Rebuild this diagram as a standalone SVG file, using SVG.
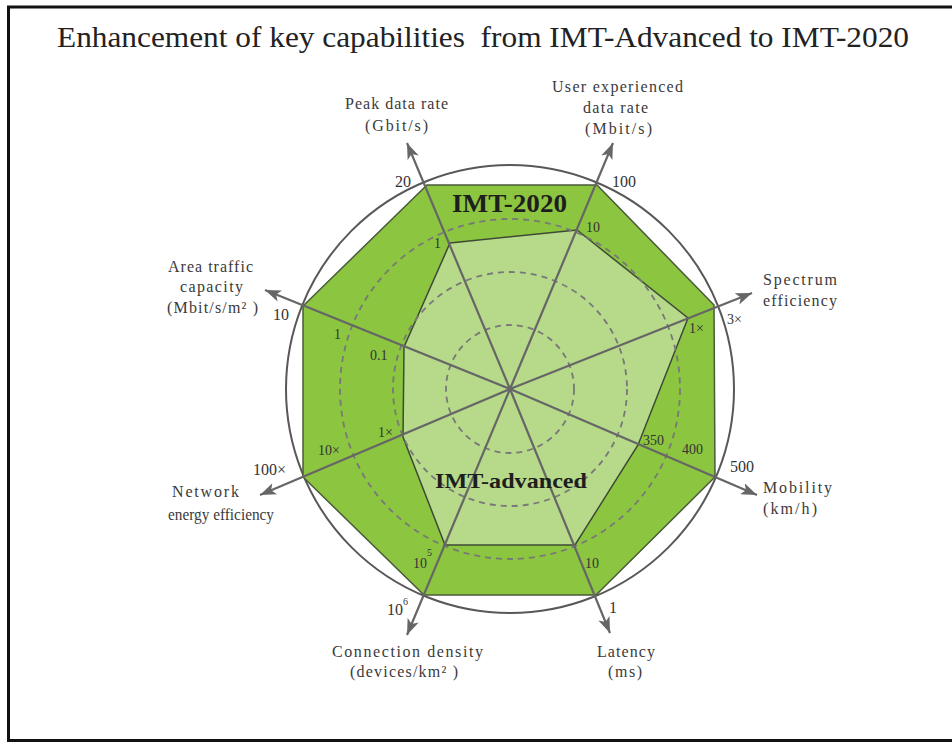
<svg xmlns="http://www.w3.org/2000/svg" width="952" height="744" viewBox="0 0 952 744">
<style>
.lbl{font-family:"Liberation Serif","Times New Roman",serif;font-size:16px;fill:#3a3a3a}
.tick{font-family:"Liberation Serif","Times New Roman",serif;font-size:16px;fill:#333}
.tk{font-family:"Liberation Serif","Times New Roman",serif;font-size:14px;fill:#333}
.sup{font-size:10px}
.big{font-family:"Liberation Serif","Times New Roman",serif;font-weight:bold;fill:#1e1e1e}
.axis{stroke:#666;stroke-width:2.2;fill:none;marker-end:url(#arr)}
.ring{stroke:#787878;stroke-width:1.8;stroke-dasharray:6 5;fill:none}
</style>
<defs>
<marker id="arr" viewBox="0 0 16 12" refX="16" refY="6" markerUnits="userSpaceOnUse" markerWidth="16" markerHeight="12" orient="auto">
<path d="M0,0 L16,6 L0,12 L4,6 z" fill="#666"/>
</marker>
</defs>
<rect x="0" y="0" width="952" height="744" fill="#fff"/>
<rect x="8.5" y="7" width="960" height="733.5" fill="none" stroke="#111" stroke-width="3"/>
<text x="57" y="47" xml:space="preserve" textLength="852" lengthAdjust="spacingAndGlyphs" style="font-family:'Liberation Serif','Times New Roman',serif;font-size:29px;fill:#222">Enhancement of key capabilities  from IMT-Advanced to IMT-2020</text>

<g id="outer-circle"><circle cx="510" cy="389" r="224" fill="none" stroke="#585858" stroke-width="2"/></g>
<g id="imt-2020"><polygon points="427,185 597,185 714,305 715,477 596,595 424,595 303,477 303,306" fill="#8cc540" stroke="#4a5a3a" stroke-width="1.5"/></g>
<g id="imt-advanced"><polygon points="450,243 577,230 688,318 638,445 575,545 445,545 403,437 404,347" fill="#b6d98a" stroke="#3e4a36" stroke-width="1.5"/></g>
<g id="rings">
<circle class="ring" cx="510" cy="389" r="64"/>
<circle class="ring" cx="510" cy="389" r="117"/>
<circle class="ring" cx="510" cy="389" r="170"/>
</g>
<g id="connectors">
<line class="axis" x1="510" y1="389" x2="407" y2="143"/>
<line class="axis" x1="510" y1="389" x2="613" y2="143"/>
<line class="axis" x1="510" y1="389" x2="752" y2="293"/>
<line class="axis" x1="510" y1="389" x2="757" y2="495"/>
<line class="axis" x1="510" y1="389" x2="610" y2="633"/>
<line class="axis" x1="510" y1="389" x2="407" y2="635"/>
<line class="axis" x1="510" y1="389" x2="260" y2="495"/>
<line class="axis" x1="510" y1="389" x2="265" y2="290"/>
<circle cx="510" cy="389" r="3" fill="#666"/>
</g>

<g id="peak">
<text class="lbl" x="345" y="109" textLength="103" lengthAdjust="spacing">Peak data rate</text>
<text class="lbl" x="365" y="131" textLength="63" lengthAdjust="spacing">(Gbit/s)</text>
<text class="tick" x="395" y="187">20</text>
<text class="tk" x="434" y="248">1</text>
</g>
<g id="user">
<text class="lbl" x="552" y="92" textLength="131" lengthAdjust="spacing">User experienced</text>
<text class="lbl" x="583" y="113" textLength="65" lengthAdjust="spacing">data rate</text>
<text class="lbl" x="585" y="134" textLength="67" lengthAdjust="spacing">(Mbit/s)</text>
<text class="tick" x="612" y="187">100</text>
<text class="tk" x="586" y="232">10</text>
</g>
<g id="spectrum">
<text class="lbl" x="763" y="285" textLength="74" lengthAdjust="spacing">Spectrum</text>
<text class="lbl" x="763" y="306" textLength="74" lengthAdjust="spacing">efficiency</text>
<text class="tk" x="727" y="324">3×</text>
<text class="tk" x="689" y="333">1×</text>
</g>
<g id="mobility">
<text class="lbl" x="763" y="493" textLength="69" lengthAdjust="spacing">Mobility</text>
<text class="lbl" x="763" y="514" textLength="54" lengthAdjust="spacing">(km/h)</text>
<text class="tick" x="730" y="472">500</text>
<text class="tk" x="682" y="454">400</text>
<text class="tk" x="643" y="445">350</text>
</g>
<g id="latency">
<text class="lbl" x="597" y="657" textLength="58" lengthAdjust="spacing">Latency</text>
<text class="lbl" x="608" y="677" textLength="34" lengthAdjust="spacing">(ms)</text>
<text class="tick" x="609" y="613">1</text>
<text class="tk" x="585" y="568">10</text>
</g>
<g id="connection">
<text class="lbl" x="332" y="657" textLength="151" lengthAdjust="spacing">Connection density</text>
<text class="lbl" x="350" y="677" xml:space="preserve" textLength="108" lengthAdjust="spacing">(devices/km² )</text>
<text class="tick" x="387" y="615">10<tspan class="sup" dy="-10">6</tspan></text>
<text class="tk" x="413" y="568">10<tspan class="sup" dy="-12">5</tspan></text>
</g>
<g id="network">
<text class="lbl" x="172" y="497" textLength="67" lengthAdjust="spacing">Network</text>
<text class="lbl" x="168" y="520" textLength="106" lengthAdjust="spacingAndGlyphs">energy efficiency</text>
<text class="tick" x="253" y="475">100×</text>
<text class="tk" x="318" y="455">10×</text>
<text class="tk" x="378" y="437">1×</text>
</g>
<g id="area">
<text class="lbl" x="168" y="272" textLength="85" lengthAdjust="spacing">Area traffic</text>
<text class="lbl" x="180" y="292" textLength="63" lengthAdjust="spacing">capacity</text>
<text class="lbl" x="167" y="313" xml:space="preserve" textLength="91" lengthAdjust="spacing">(Mbit/s/m² )</text>
<text class="tick" x="273" y="320">10</text>
<text class="tk" x="334" y="339">1</text>
<text class="tk" x="370" y="360">0.1</text>
</g>
<g id="labels">
<text class="big" x="452" y="212" font-size="25" textLength="115" lengthAdjust="spacingAndGlyphs">IMT-2020</text>
<text class="big" x="435" y="488" font-size="22" textLength="152" lengthAdjust="spacingAndGlyphs">IMT-advanced</text>
</g>
</svg>
